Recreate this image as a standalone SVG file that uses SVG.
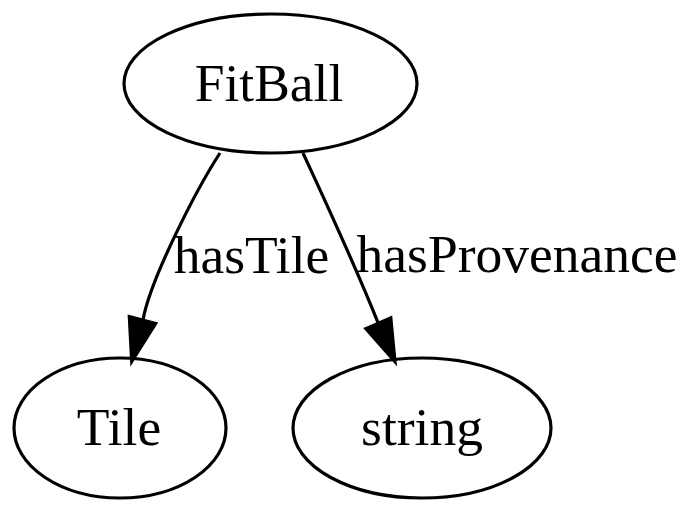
<svg xmlns="http://www.w3.org/2000/svg" width="700" height="514" viewBox="0 0 700 514">
<defs>
<style>
.node ellipse{fill:none;stroke:#000;stroke-width:3.2}
text{font-family:"Liberation Serif","Times New Roman",serif;font-size:53.5px;fill:#000;text-anchor:middle}
.edge path{fill:none;stroke:#000;stroke-width:3.2}
.edge polygon{fill:#000;stroke:#000;stroke-width:3.2}
</style>
</defs>
<rect width="700" height="514" fill="#fff"/>
<g id="connectors">
<g class="edge" id="e_fitball_tile">
<path d="M220,153 C196,190 150,280 143,320"/>
<polygon points="129.3,316.6 155.7,323.4 131.7,361.7"/>
<text x="251.5" y="273">hasTile</text>
</g>
<g class="edge" id="e_fitball_string">
<path d="M303,153 C322,194 352,258 378.3,323.3"/>
<polygon points="365.8,328.7 390.8,317.9 395,361.7"/>
<text x="517" y="272">hasProvenance</text>
</g>
</g>
<g class="node" id="FitBall">
<ellipse cx="270.5" cy="83.5" rx="146.5" ry="69.5"/>
<text x="269" y="101">FitBall</text>
</g>
<g class="node" id="Tile">
<ellipse cx="120" cy="428" rx="106" ry="70"/>
<text x="119" y="445">Tile</text>
</g>
<g class="node" id="string">
<ellipse cx="422" cy="428" rx="129" ry="70"/>
<text x="422" y="445">string</text>
</g>
</svg>
